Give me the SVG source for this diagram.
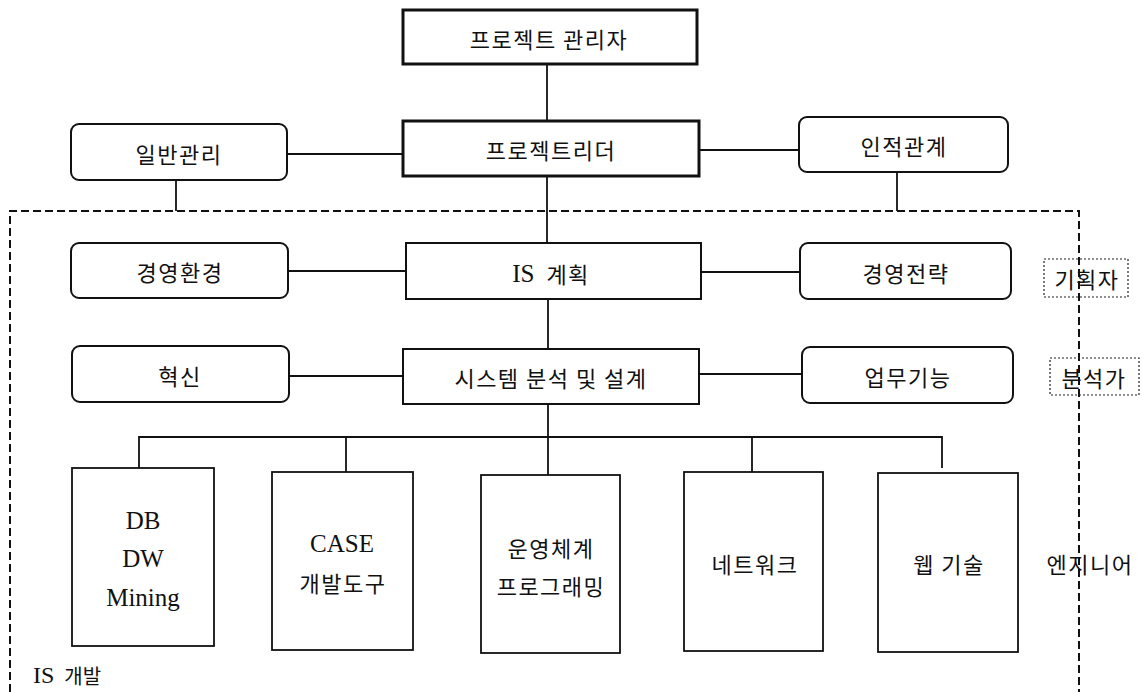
<svg xmlns="http://www.w3.org/2000/svg" width="1142" height="692" viewBox="0 0 1142 692">
<style>
.bg{fill:#fff}
.thick{fill:#fff;stroke:#111;stroke-width:3}
.mid{fill:#fff;stroke:#111;stroke-width:2}
.rnd{fill:#fff;stroke:#111;stroke-width:2}
.sq{fill:#fff;stroke:#111;stroke-width:1.8}
.dot{fill:none;stroke:#222;stroke-width:1.2;stroke-dasharray:2 2}
.line{fill:none;stroke:#111;stroke-width:1.8}
.dash{fill:none;stroke:#111;stroke-width:2;stroke-dasharray:8 4}
text{font-family:"Liberation Serif","Noto Sans CJK KR",serif;fill:#111;text-anchor:middle;dominant-baseline:central}
.ko{font-family:"Noto Sans CJK KR",sans-serif;font-size:22px;letter-spacing:1.5px}
.en{font-size:25px}
.lbl{font-family:"Liberation Serif","Noto Sans CJK KR",serif;font-size:22px}
</style>
<rect class="bg" x="0" y="0" width="1142" height="692"/>
<g id="connectors">
<path class="dash" d="M10,692 V211 H1079 V692"/>
<path class="line" d="M547,64 V121"/>
<path class="line" d="M547,176 V243"/>
<path class="line" d="M548,299 V349"/>
<path class="line" d="M548,404 V475"/>
<path class="line" d="M139,468 V437 H942 V468"/>
<path class="line" d="M346,437 V472"/>
<path class="line" d="M752,437 V472"/>
<path class="line" d="M287,154 H403"/>
<path class="line" d="M699,150 H799"/>
<path class="line" d="M176,180 V211"/>
<path class="line" d="M897,172 V211"/>
<path class="line" d="M288,271 H406"/>
<path class="line" d="M701,272 H800"/>
<path class="line" d="M289,376 H403"/>
<path class="line" d="M699,374 H802"/>
</g>
<g id="n-pm">
<rect class="thick" x="403" y="10" width="294" height="54"/>
<text class="ko" x="549" y="38">프로젝트 관리자</text>
</g>
<g id="n-leader">
<rect class="thick" x="403" y="121" width="296" height="55"/>
<text class="ko" x="551" y="149">프로젝트리더</text>
</g>
<g id="n-general">
<rect class="rnd" x="71" y="124" width="216" height="56" rx="8"/>
<text class="ko" x="179" y="153">일반관리</text>
</g>
<g id="n-human">
<rect class="rnd" x="799" y="117" width="209" height="55" rx="8"/>
<text class="ko" x="904" y="145">인적관계</text>
</g>
<g id="n-env">
<rect class="rnd" x="71" y="243" width="217" height="55" rx="8"/>
<text class="ko" x="180" y="271">경영환경</text>
</g>
<g id="n-isplan">
<rect class="mid" x="406" y="243" width="295" height="56"/>
<text class="lbl" x="551" y="273"><tspan font-size="25">IS</tspan><tspan dx="12" font-family="Noto Sans CJK KR" letter-spacing="1.5">계획</tspan></text>
</g>
<g id="n-strategy">
<rect class="rnd" x="800" y="243" width="211" height="56" rx="8"/>
<text class="ko" x="906" y="272">경영전략</text>
</g>
<g id="n-innov">
<rect class="rnd" x="72" y="346" width="217" height="56" rx="8"/>
<text class="ko" x="180" y="375">혁신</text>
</g>
<g id="n-sad">
<rect class="mid" x="403" y="349" width="296" height="55"/>
<text class="ko" x="551" y="377">시스템 분석 및 설계</text>
</g>
<g id="n-biz">
<rect class="rnd" x="802" y="347" width="211" height="56" rx="8"/>
<text class="ko" x="908" y="376">업무기능</text>
</g>
<g id="n-db">
<rect class="sq" x="72" y="468" width="142" height="178"/>
<text class="en" x="143" y="520">DB</text>
<text class="en" x="143" y="558">DW</text>
<text class="en" x="143" y="597">Mining</text>
</g>
<g id="n-case">
<rect class="sq" x="272" y="472" width="141" height="178"/>
<text class="en" x="342" y="543">CASE</text>
<text class="ko" x="343" y="582">개발도구</text>
</g>
<g id="n-os">
<rect class="sq" x="481" y="475" width="139" height="178"/>
<text class="ko" x="551" y="547">운영체계</text>
<text class="ko" x="551" y="585">프로그래밍</text>
</g>
<g id="n-net">
<rect class="sq" x="684" y="472" width="139" height="179"/>
<text class="ko" x="755" y="563">네트워크</text>
</g>
<g id="n-web">
<rect class="sq" x="878" y="473" width="140" height="179"/>
<text class="ko" x="949" y="563">웹 기술</text>
</g>
<g id="n-planner">
<rect class="dot" x="1044" y="259" width="84" height="38"/>
<text class="ko" x="1087" y="278">기획자</text>
</g>
<g id="n-analyst">
<rect class="dot" x="1050" y="358" width="89" height="37"/>
<text class="ko" x="1094" y="377">분석가</text>
</g>
<g id="n-engineer">
<text class="ko" x="1090" y="563">엔지니어</text>
</g>
<g id="n-isdev">
<text class="lbl" x="33" y="675" style="text-anchor:start"><tspan font-size="24">IS</tspan><tspan dx="10" font-family="Noto Sans CJK KR" font-size="20">개발</tspan></text>
</g>
</svg>
